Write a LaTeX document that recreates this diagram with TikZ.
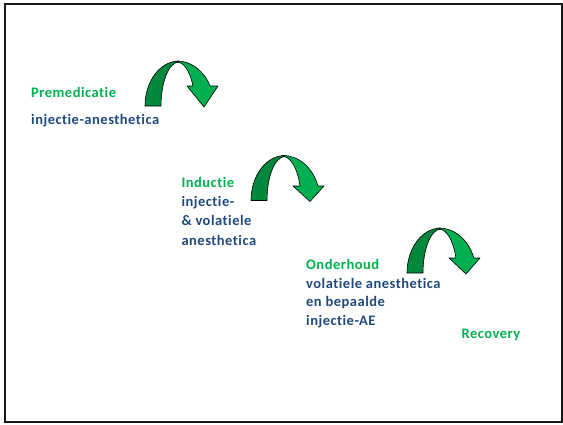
\documentclass[tikz,border=0pt]{standalone}
\usepackage{fontspec}
\setmainfont[Ligatures={NoCommon}, LetterSpace=3.5]{Carlito}
\definecolor{stagegreen}{RGB}{0,176,80}
\definecolor{drugblue}{RGB}{31,73,125}
\definecolor{backband}{RGB}{0,136,62}
\definecolor{frontband}{RGB}{0,176,80}
\tikzset{
  stage/.style={anchor=base west, inner sep=0pt, text=stagegreen, font=\fontsize{14.5}{17}\selectfont\bfseries},
  drug/.style={anchor=base west, inner sep=0pt, text=drugblue, font=\fontsize{14.5}{17}\selectfont\bfseries},
  bandline/.style={draw=black, line width=0.6pt, line join=round},
  % curved down arrow; origin = bottom of the outer edge of the left leg,
  % \hb = height of the arrow head's base above the leg bottom
  curvedarrow/.pic={
    \path[bandline, fill=backband]
      (0,0) arc[start angle=180, end angle=90, x radius=34, y radius=45]
      -- (34,44) arc[start angle=90, end angle=180, x radius=18, y radius=44]
      -- cycle;
    \path[bandline, fill=frontband]
      (32,45) arc[start angle=90, end angle={asin(\hb/45)}, x radius=37, y radius=45]
      -- (73,\hb) -- (59,-1) -- (42,\hb)
      -- ({32+18*cos(asin(\hb/44))},\hb)
      arc[start angle={asin(\hb/44)}, end angle=90, x radius=18, y radius=44]
      -- cycle;
  }
}
\begin{document}
\begin{tikzpicture}[x=1pt,y=1pt]
\useasboundingbox (0,-424) rectangle (563,0);
% slide frame
\draw[line width=2.2pt, black!90] (5.3,-4.2) rectangle (562,-422.3);

% arrows between the stages
\def\hb{20}
\pic at (145,-106) {curvedarrow};
\def\hb{14.5}
\pic at (251,-200.5) {curvedarrow};
\def\hb{15}
\pic at (407,-273) {curvedarrow};

% stage 1
\node[stage] (premed) at (31,-97.5) {Premedicatie};
\node[drug] (premeddrug) at (31,-124) {injectie-anesthetica};

% stage 2
\node[stage] (induct) at (181.3,-187.3) {Inductie};
\node[drug] (induct1) at (181.3,-206.5) {injectie-};
\node[drug] (induct2) at (181.3,-225.8) {\& volatiele};
\node[drug] (induct3) at (181.3,-245) {anesthetica};

% stage 3
\node[stage] (maint) at (306,-269.3) {Onderhoud};
\node[drug] (maint1) at (306,-288) {volatiele anesthetica};
\node[drug] (maint2) at (306,-306.7) {en bepaalde};
\node[drug] (maint3) at (306,-325.3) {injectie-AE};

% stage 4
\node[stage] (recov) at (461.4,-338.5) {Recovery};
\end{tikzpicture}
\end{document}
